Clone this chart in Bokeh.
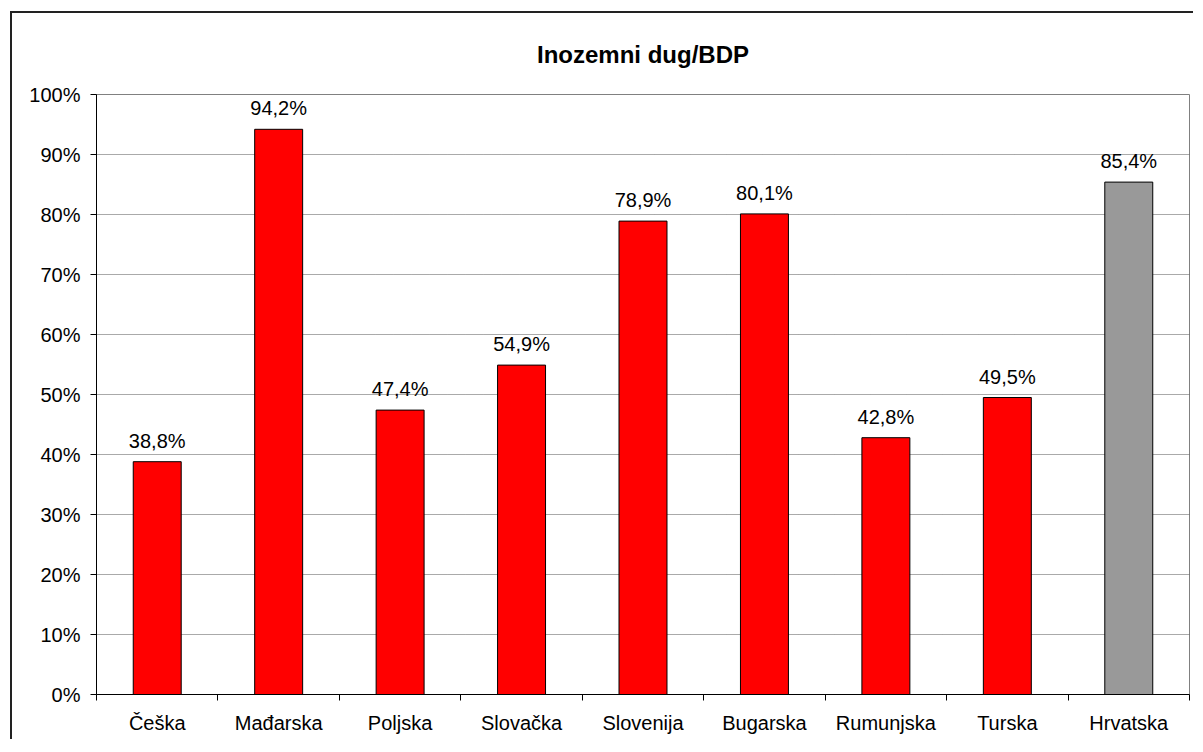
from bokeh.plotting import figure
from bokeh.models import ColumnDataSource, FixedTicker, PrintfTickFormatter, Range1d
from bokeh.embed import file_html
from bokeh.resources import INLINE

countries = ["Češka", "Mađarska", "Poljska", "Slovačka", "Slovenija", "Bugarska", "Rumunjska", "Turska", "Hrvatska"]
debt_pct = [38.8, 94.2, 47.4, 54.9, 78.9, 80.1, 42.8, 49.5, 85.4]
bar_colors = ["#FF0000"] * 8 + ["#999999"]
y_ticks = [0, 10, 20, 30, 40, 50, 60, 70, 80, 90, 100]
chart_title = "Inozemni dug/BDP"

xs = [i + 0.5 for i in range(len(countries))]
labels = [f"{v:.1f}".replace(".", ",") + "%" for v in debt_pct]
src = ColumnDataSource(dict(x=xs, top=debt_pct, color=bar_colors, label=labels))

FONT = "Liberation Sans"
W, H = 1183, 728
p = figure(width=W, height=H, output_backend="svg", toolbar_location=None,
           x_range=Range1d(0, len(countries)), y_range=Range1d(0, 100),
           min_border_left=84, min_border_right=W - 84 - 1093, min_border_top=81,
           min_border_bottom=H - 81 - 600)
p.styles = {"border-top": "2px solid #222", "border-left": "2px solid #222",
            "margin-top": "11px", "margin-left": "10px"}

p.title.text = chart_title
p.title.text_font = FONT
p.title.text_font_size = "24px"
p.title.text_font_style = "bold"
p.title.text_color = "black"
p.title.align = "center"
p.title.vertical_align = "top"
p.title.offset = -29
p.title.standoff = 50

p.vbar(x="x", top="top", width=0.395, fill_color="color", line_color="black", line_width=1, source=src)
p.text(x="x", y="top", text="label", source=src, text_align="center", text_baseline="alphabetic",
       y_offset=-21, text_font_size="20px", text_color="black", text_font={"value": FONT})

p.outline_line_color = "#808080"
p.outline_line_width = 1

p.xgrid.grid_line_color = None
p.ygrid.ticker = FixedTicker(ticks=y_ticks)
p.ygrid.grid_line_color = "#555555"
p.ygrid.grid_line_dash = "1 1"
p.ygrid.grid_line_width = 1

p.yaxis.ticker = FixedTicker(ticks=y_ticks)
p.yaxis.formatter = PrintfTickFormatter(format="%d%%")
p.yaxis.major_tick_out = 6
p.yaxis.major_tick_in = 0
p.yaxis.minor_tick_line_color = None
p.yaxis.major_label_standoff = 10
p.yaxis.axis_line_color = "black"

p.xaxis.ticker = FixedTicker(ticks=xs, minor_ticks=list(range(len(countries) + 1)))
p.xaxis.major_label_overrides = {x: c for x, c in zip(xs, countries)}
p.xaxis.major_tick_out = 0
p.xaxis.major_tick_in = 0
p.xaxis.minor_tick_out = 6
p.xaxis.minor_tick_in = 0
p.xaxis.minor_tick_line_color = "black"
p.xaxis.major_label_standoff = 11
p.xaxis.axis_line_color = "black"

for ax in (p.xaxis, p.yaxis):
    ax.major_label_text_font = FONT
    ax.major_label_text_font_size = "20px"
    ax.major_label_text_color = "black"

p.background_fill_color = "white"
p.border_fill_color = "white"

open("out.html", "w").write(file_html(p, INLINE))
